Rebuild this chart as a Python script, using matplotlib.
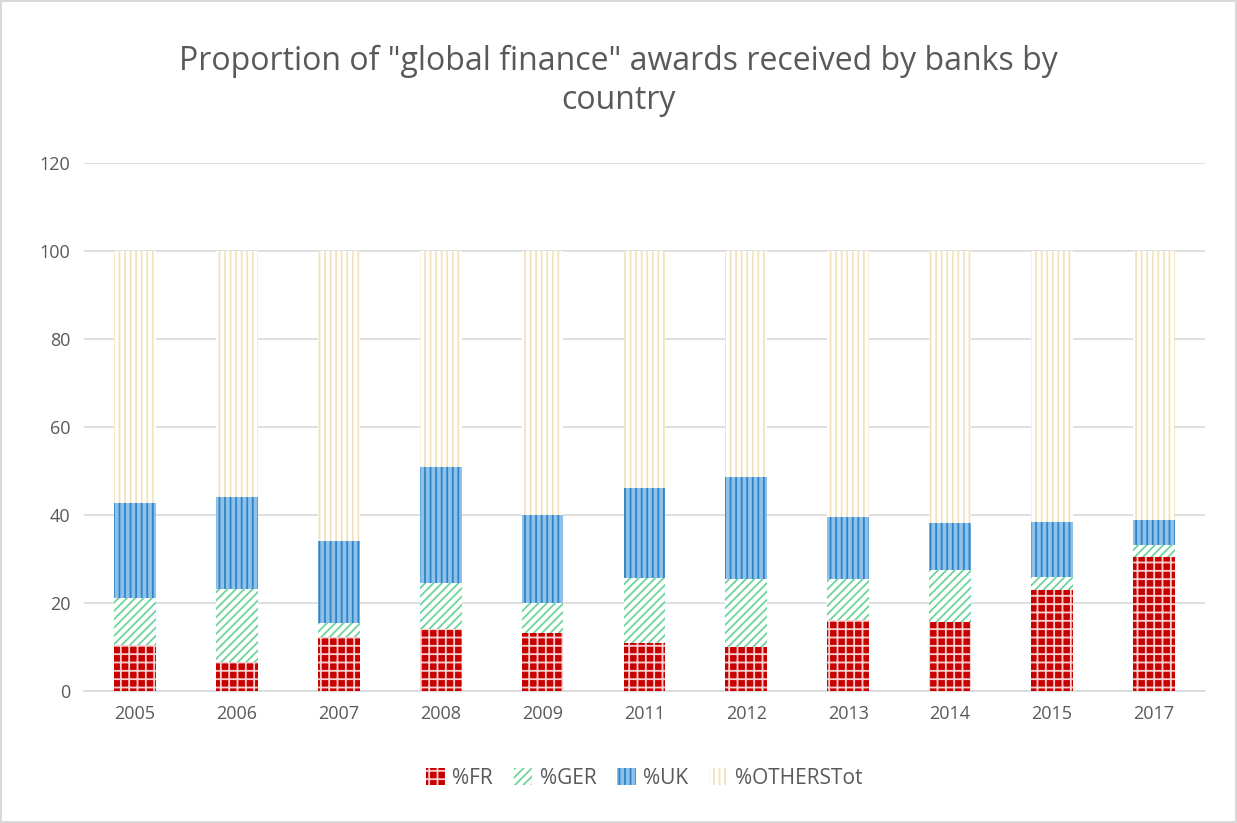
import matplotlib
matplotlib.use('Agg')
import matplotlib.pyplot as plt
import numpy as np

plt.rcParams['font.family'] = ['Open Sans', 'DejaVu Sans']
plt.rcParams['hatch.linewidth'] = 1.3

# ----------------------------------------------------------------------
years = ['2005', '2006', '2007', '2008', '2009', '2011', '2012', '2013', '2014', '2015', '2017']
pct_fr = [10.5, 6.6, 12.3, 14.1, 13.2, 10.9, 10.0, 16.1, 15.7, 23.1, 30.4]
pct_ger = [10.6, 16.6, 3.2, 10.4, 6.8, 14.8, 15.5, 9.4, 11.9, 2.9, 2.8]
pct_uk = [21.6, 20.9, 18.6, 26.4, 20.0, 20.4, 23.1, 14.0, 10.7, 12.5, 5.7]
pct_others = [100 - a - b - c for a, b, c in zip(pct_fr, pct_ger, pct_uk)]
series_names = ['%FR', '%GER', '%UK', '%OTHERSTot']

# ----------------------------------------------------------------------
txt = '#595959'
grid = '#D9D9D9'

fig = plt.figure(figsize=(12.37, 8.23), dpi=100)
fig.patch.set_edgecolor('#D9D9D9')
fig.patch.set_linewidth(1.5)
ax = fig.add_axes([0.068, 0.16, 0.906, 0.642])

x = np.arange(len(years))
w = 0.41
styles = [
    dict(color='#C80000', edgecolor='#F6D0D0', hatch='++'),
    dict(color='white', edgecolor='#6FD39C', hatch='////'),
    dict(color='#8EC0E8', edgecolor='#2D86CB', hatch='|||'),
    dict(color='white', edgecolor='#F3E2BC', hatch='|||'),
]
bottom = np.zeros(len(years))
for vals, name, st in zip([pct_fr, pct_ger, pct_uk, pct_others], series_names, styles):
    ax.bar(x, vals, w, bottom=bottom, label=name, linewidth=0, zorder=3, **st)
    bottom += np.array(vals)

ax.set_ylim(0, 120)
ax.set_yticks(range(0, 121, 20))
ax.set_xlim(-0.5, len(years) - 0.5)
ax.set_xticks(x)
ax.set_xticklabels(years)
ax.yaxis.grid(True, color=grid, linewidth=1.2, zorder=0)
for s in ['top', 'right', 'left']:
    ax.spines[s].set_visible(False)
ax.spines['bottom'].set_color(grid)
ax.spines['bottom'].set_linewidth(1.2)
ax.tick_params(length=0, labelsize=13, colors=txt, pad=10)

fig.text(0.5, 0.902, 'Proportion of "global finance" awards received by banks by\ncountry',
         ha='center', va='center', fontsize=23, color=txt, linespacing=1.25)

leg = ax.legend(loc='center', bbox_to_anchor=(0.5, -0.165), ncol=4, frameon=False,
                fontsize=15, handlelength=0.9, handleheight=0.9, columnspacing=1.0,
                handletextpad=0.35, labelcolor=txt)

plt.savefig('out.png', dpi=100)
